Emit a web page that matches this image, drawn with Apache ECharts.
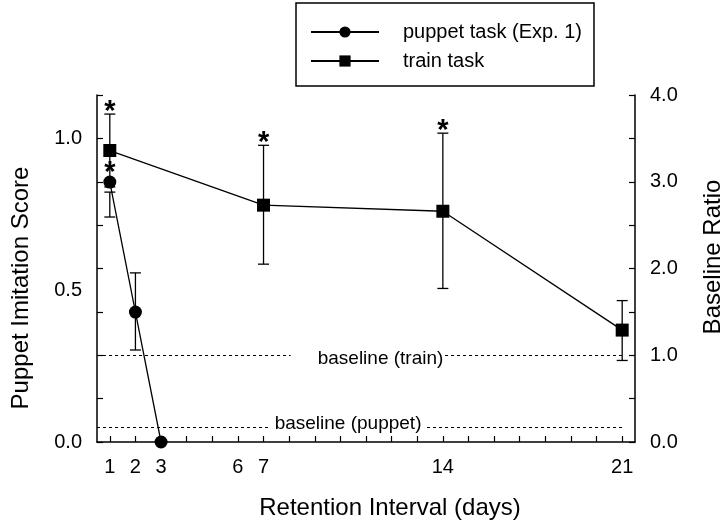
<!DOCTYPE html>
<html>
<head>
<meta charset="utf-8">
<script src="https://cdn.jsdelivr.net/npm/echarts@6/dist/echarts.min.js"></script>
<style>
html,body{margin:0;padding:0;background:#fff}
#chart{width:725px;height:524px}
</style>
</head>
<body>
<div id="chart"></div>
<script>
// puppet task (left axis, imitation score)
var puppetDays = [1, 2, 3];
var puppetScore = [0.856, 0.428, 0.0];
var puppetErrDays = [1, 2];
var puppetErrLow = [0.741, 0.303];
var puppetErrHigh = [0.823, 0.557];
var puppetErrMean = [0.856, 0.428];
var puppetStar = [1, 0];

// train task (right axis, baseline ratio)
var trainDays = [1, 7, 14, 21];
var trainRatio = [3.36, 2.73, 2.66, 1.29];
var trainErrLow = [2.94, 2.05, 1.77, 0.94];
var trainErrHigh = [3.78, 3.42, 3.56, 1.63];
var trainStar = [1, 1, 1, 0];

// baselines
var baselinePuppet = 0.05;
var baselineTrain = 1.0;

// axes
var xTickDays = [1,2,3,4,5,6,7,8,9,10,11,12,13,14,15,16,17,18,19,20,21];
var xLabelDays = [1, 2, 3, 6, 7, 14, 21];
var leftLabels = [0, 0.5, 1.0];
var rightLabels = [0, 1, 2, 3, 4];
var rightTicks = [0, 0.5, 1, 1.5, 2, 2.5, 3, 3.5, 4];
var leftMax = 8 / 7, rightMax = 4;
var leftTicks = rightTicks.map(function (v) { return v * leftMax / rightMax; });

var FONT = '"Liberation Sans", Arial, Helvetica, sans-serif';

function zip(xs, lo, hi, mean, star) {
    var out = [];
    for (var i = 0; i < xs.length; i++) out.push([xs[i], lo[i], hi[i], mean[i], star[i]]);
    return out;
}
function pairs(xs, ys) {
    var out = [];
    for (var i = 0; i < xs.length; i++) out.push([xs[i], ys[i]]);
    return out;
}

function errorBarItem(params, api) {
    var x = api.value(0);
    var lo = api.coord([x, api.value(1)]);
    var hi = api.coord([x, api.value(2)]);
    var mid = api.coord([x, api.value(3)]);
    var half = 5.5;
    var st = { stroke: '#000', lineWidth: 1.3, fill: null };
    var kids = [
        { type: 'line', shape: { x1: lo[0], y1: lo[1], x2: hi[0], y2: hi[1] }, style: st },
        { type: 'line', shape: { x1: hi[0] - half, y1: hi[1], x2: hi[0] + half, y2: hi[1] }, style: st },
        { type: 'line', shape: { x1: lo[0] - half, y1: lo[1], x2: lo[0] + half, y2: lo[1] }, style: st }
    ];
    if (api.value(4)) {
        var top = Math.min(hi[1], mid[1] - 7);
        kids.push({
            type: 'text',
            style: { text: '*', x: mid[0], y: top - 2, font: 'bold 29px ' + FONT, fill: '#000', align: 'center', verticalAlign: 'middle' }
        });
    }
    return { type: 'group', children: kids };
}

var chart = echarts.init(document.getElementById('chart'));
var option = {
    animation: false,
    textStyle: { fontFamily: FONT, color: '#000' },
    grid: { left: 97, right: 90, top: 95, bottom: 82 },
    legend: {
        orient: 'vertical',
        left: 296,
        top: 3,
        padding: [19, 12, 15, 14],
        itemGap: 9,
        itemWidth: 68,
        itemHeight: 14,
        borderColor: '#000',
        borderWidth: 1.5,
        backgroundColor: '#fff',
        textStyle: { fontSize: 20, color: '#000', fontFamily: FONT, padding: [0, 0, 0, 19] },
        data: ['puppet task (Exp. 1)', 'train task']
    },
    xAxis: {
        type: 'value',
        min: 0.5,
        max: 21.5,
        splitLine: { show: false },
        axisLine: { onZero: false, lineStyle: { color: '#000', width: 1.5 } },
        axisTick: { inside: true, length: 6, customValues: xTickDays, lineStyle: { color: '#000', width: 1.2 } },
        axisLabel: { customValues: xLabelDays, fontSize: 20, color: '#000', margin: 15 }
    },
    yAxis: [
        {
            type: 'value',
            position: 'left',
            min: 0,
            max: leftMax,
            splitLine: { show: false },
            axisLine: { show: true, onZero: false, lineStyle: { color: '#000', width: 1.5 } },
            axisTick: { inside: true, length: 6, customValues: leftTicks, lineStyle: { color: '#000', width: 1.2 } },
            axisLabel: { customValues: leftLabels, fontSize: 20, color: '#000', margin: 15,
                formatter: function (v) { return v.toFixed(1); } }
        },
        {
            type: 'value',
            position: 'right',
            min: 0,
            max: rightMax,
            interval: 0.5,
            splitLine: { show: false },
            axisLine: { show: true, onZero: false, lineStyle: { color: '#000', width: 1.5 } },
            axisTick: { inside: true, length: 6, customValues: rightTicks, lineStyle: { color: '#000', width: 1.2 } },
            axisLabel: { customValues: rightLabels, fontSize: 20, color: '#000', margin: 15,
                formatter: function (v) { return v.toFixed(1); } }
        }
    ],
    series: [
        {
            name: 'puppet task (Exp. 1)',
            type: 'line',
            yAxisIndex: 0,
            data: pairs(puppetDays, puppetScore),
            symbol: 'circle',
            symbolSize: 13,
            itemStyle: { color: '#000' },
            lineStyle: { color: '#000', width: 1.3 },
            z: 4,
            markLine: {
                silent: true,
                symbol: 'none',
                label: { show: false },
                lineStyle: { color: '#000', width: 1.2, type: [3, 3] },
                data: [[{ coord: [0.5, baselinePuppet] }, { coord: [21.05, baselinePuppet] }]]
            }
        },
        {
            name: 'train task',
            type: 'line',
            yAxisIndex: 1,
            data: pairs(trainDays, trainRatio),
            symbol: 'rect',
            symbolSize: 13,
            itemStyle: { color: '#000' },
            lineStyle: { color: '#000', width: 1.3 },
            z: 4,
            markLine: {
                silent: true,
                symbol: 'none',
                label: { show: false },
                lineStyle: { color: '#000', width: 1.2, type: [3, 3] },
                data: [[{ coord: [0.5, baselineTrain] }, { coord: [21.05, baselineTrain] }]]
            }
        },
        {
            type: 'custom',
            yAxisIndex: 0,
            renderItem: errorBarItem,
            encode: { x: 0, y: [1, 2] },
            data: zip(puppetErrDays, puppetErrLow, puppetErrHigh, puppetErrMean, puppetStar),
            z: 3,
            silent: true
        },
        {
            type: 'custom',
            yAxisIndex: 1,
            renderItem: errorBarItem,
            encode: { x: 0, y: [1, 2] },
            data: zip(trainDays, trainErrLow, trainErrHigh, trainRatio, trainStar),
            z: 3,
            silent: true
        }
    ]
};
chart.setOption(option);

// baseline labels sit in a white box on the dotted line, axis titles placed by hand
var pTrain = chart.convertToPixel({ seriesIndex: 1 }, [8.06, baselineTrain]);
var pPuppet = chart.convertToPixel({ seriesIndex: 0 }, [7.2, baselinePuppet]);
chart.setOption({
    graphic: [
        { type: 'text', x: pTrain[0], y: pTrain[1] + 4, z: 10,
          style: { text: 'baseline (train)', font: '19px ' + FONT, fill: '#000', backgroundColor: '#fff',
                   padding: [1, 1, 1, 27], align: 'left', verticalAlign: 'middle' } },
        { type: 'text', x: pPuppet[0], y: pPuppet[1] - 3, z: 10,
          style: { text: 'baseline (puppet)', font: '19px ' + FONT, fill: '#000', backgroundColor: '#fff',
                   padding: [1, 3, 1, 6], align: 'left', verticalAlign: 'middle' } },
        { type: 'text', x: 21, y: 288, rotation: Math.PI / 2,
          style: { text: 'Puppet Imitation Score', font: '24px ' + FONT, fill: '#000', align: 'center', verticalAlign: 'middle' } },
        { type: 'text', x: 713, y: 257, rotation: Math.PI / 2,
          style: { text: 'Baseline Ratio', font: '24px ' + FONT, fill: '#000', align: 'center', verticalAlign: 'middle' } },
        { type: 'text', x: 390, y: 508,
          style: { text: 'Retention Interval (days)', font: '24px ' + FONT, fill: '#000', align: 'center', verticalAlign: 'middle' } }
    ]
});
</script>
</body>
</html>
